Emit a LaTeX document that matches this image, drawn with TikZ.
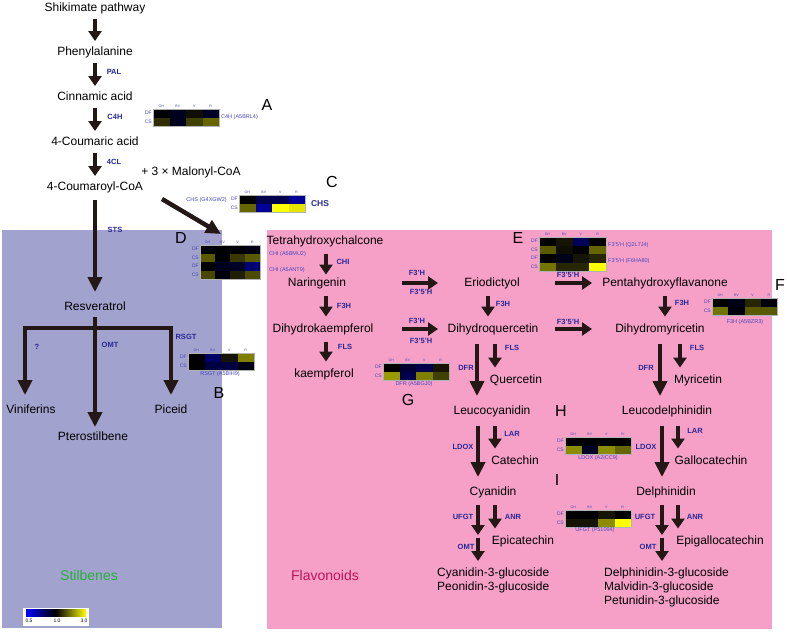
\documentclass[tikz,border=0pt]{standalone}
\usepackage{fontspec}
\setmainfont{Liberation Sans}
\usetikzlibrary{arrows.meta}
\definecolor{stilbg}{RGB}{162,162,206}
\definecolor{flavbg}{RGB}{246,160,200}
\definecolor{arrcol}{RGB}{35,24,21}
\definecolor{enzblue}{RGB}{40,40,150}
\definecolor{hmblue}{RGB}{70,70,185}
\definecolor{stilgreen}{RGB}{40,175,60}
\definecolor{flavred}{RGB}{185,20,90}
\definecolor{hy}{rgb}{1,1,0}
\definecolor{hb}{rgb}{0,0,1}
\definecolor{hk}{rgb}{0,0,0}

\begin{document}
\begin{tikzpicture}[x=1pt,y=-1pt,
    met/.style={font=\fontsize{12}{14}\selectfont, inner sep=0pt, text height=9pt, text depth=2.5pt},
    mlist/.style={font=\fontsize{12}{14}\selectfont, inner sep=0pt, align=left, anchor=north west},
    enz/.style={font=\fontsize{7.5}{9}\selectfont\bfseries, text=enzblue, inner sep=0pt},
    tag/.style={font=\fontsize{16}{18}\selectfont, inner sep=0pt},
    gene/.style={font=\fontsize{5.5}{6}\selectfont, text=hmblue, inner sep=0pt},
    rowlab/.style={font=\fontsize{5}{6}\selectfont, text=hmblue, inner sep=0pt, anchor=east},
    collab/.style={font=\fontsize{3.5}{4}\selectfont, text=hmblue, inner sep=0pt},
    leg/.style={font=\fontsize{5}{6}\selectfont, inner sep=0pt},
    hmframe/.style={draw=gray!60, line width=0.4pt},
    arr/.style={draw=arrcol, line width=3.5pt, -{Triangle[length=10pt,width=13pt]}, shorten <=5pt, shorten >=5pt},
    farr/.style={arr, shorten <=7pt, shorten >=6.5pt},
    bigarr/.style={draw=arrcol, line width=4.5pt, -{Triangle[length=15pt,width=14pt]}, shorten <=9pt, shorten >=9pt, line join=miter}]

    \useasboundingbox (0,0) rectangle (787,632);

    % Stilbene and flavonoid areas
    \fill[stilbg] (2,230) rectangle (222,628);
    \fill[flavbg] (267,230) rectangle (772,629);

    % heatmap cells (GH, BV, V, R)
    \foreach \x/\y/\w/\cs in {
        153/109/16.5/{hk,hb!12!hk,hy!6!hk,hb!15!hk},
        153/117.5/16.5/{hy!18!hk,hb!12!hk,hy!25!hk,hy!40!hk},
        239/195/16.5/{hk,hb!30!hk,hb!30!hk,hb!60!hk},
        239/203.5/16.5/{hy!40!hk,hb!60!hk,hy,hy!90!hk},
        200/245/15/{hk,hk,hk,hb!8!hk},
        200/253.5/15/{hy!35!hk,hk,hy!22!hk,hy!35!hk},
        200/262/15/{hk,hb!12!hk,hb!15!hk,hb!45!hk},
        200/270.5/15/{hy!28!hk,hb!5!hk,hy!12!hk,hy!30!hk},
        539/237/16.75/{hk,hy!8!hk,hb!35!hk,hk},
        539/245.5/16.75/{hy!35!hk,hy!5!hk,hk,hy!40!hk},
        539/254/16.75/{hk,hb!10!hk,hy!8!hk,hy!15!hk},
        539/262.5/16.75/{hy!45!hk,hy!15!hk,hy!15!hk,hy},
        712/298/16.25/{hk,hb!10!hk,hy!15!hk,hb!5!hk},
        712/306.5/16.25/{hy!45!hk,hb!5!hk,hy!35!hk,hy!35!hk},
        188/353/16.5/{hk,hb!40!hk,hy!8!hk,hy!50!hk},
        188/361.5/16.5/{hk,hb!25!hk,hb!25!hk,hb!8!hk},
        383/363/16.5/{hk,hb!20!hk,hb!30!hk,hy!8!hk},
        383/371.5/16.5/{hy!60!hk,hb!30!hk,hy!50!hk,hy!25!hk},
        565/437/16.5/{hk,hk,hk,hk},
        565/445.5/16.5/{hy!55!hk,hb!15!hk,hy!55!hk,hy!40!hk},
        565/510/16.5/{hk,hk,hy!8!hk,hk},
        565/518.5/16.5/{hy!8!hk,hy!8!hk,hy!55!hk,hy}} {
        \foreach \c [count=\i from 0] in \cs
            \fill[\c] (\x+\w*\i,\y) rectangle ++(\w,8.5);
    }

    % heatmap frames, column and row labels
    \foreach \x/\y/\w/\n [count=\k] in {153/109/16.5/2, 239/195/16.5/2, 200/245/15/4,
        539/237/16.75/4, 712/298/16.25/2, 188/353/16.5/2, 383/363/16.5/2,
        565/437/16.5/2, 565/510/16.5/2} {
        \draw[hmframe] (\x,\y) rectangle ++(4*\w,8.5*\n);
        \foreach \t [count=\i from 0] in {GH,BV,V,R}
            \node[collab] (c\k\t) at (\x+\w*\i+\w/2,\y-3) {\t};
        \foreach \j in {1,...,\n}
            \node[rowlab] (r\k-\j) at (\x-1,\y+8.5*\j-4.25) {\ifodd\j\relax DF\else CS\fi};
    }

    % gene labels
    \node[gene, anchor=west] (gA) at (221,117) {C4H (A5BRL4)};
    \node[gene, anchor=east] (gC) at (227,200) {CHS (G4XGW2)};
    \node[gene, anchor=west] (gD1) at (269,254) {CHI (A5BMU2)};
    \node[gene, anchor=west] (gD2) at (269,270) {CHI (A5ANT9)};
    \node[gene, anchor=west] (gE1) at (608,245) {F3'5'H (Q2L7J4)};
    \node[gene, anchor=west] (gE2) at (608,261) {F3'5'H (F6HA80)};
    \node[gene] (gF) at (745,322) {F3H (A5BZR3)};
    \node[gene] (gB) at (220,374) {RSGT (A5BIH9)};
    \node[gene] (gG) at (414,384) {DFR (A5BGJ0)};
    \node[gene] (gH) at (598,458) {LDOX (A2ICC9)};
    \node[gene] (gI) at (595,530) {UFGT (P51094)};

    % panel letters
    \foreach \n/\x/\y in {A/267/105, B/219/393, C/332/182, D/181/238, E/518/238,
        F/780/285, G/408/400, H/561/411, I/557/480}
        \node[tag] (tag\n) at (\x,\y) {\n};

    % colour scale
    \fill[white] (23,608) rectangle (89,626);
    \shade[left color=hb, right color=hy, middle color=hk] (26,609) rectangle (86,616);
    \node[leg] (l05) at (29,621) {0.5};
    \node[leg] (l10) at (57,621) {1.0};
    \node[leg] (l30) at (84,621) {3.0};

    % group names
    \node[font=\fontsize{14}{16}\selectfont, text=stilgreen] (stil) at (89,575) {Stilbenes};
    \node[font=\fontsize{14}{16}\selectfont, text=flavred] (flav) at (325,575) {Flavonoids};

    % phenylpropanoid and stilbene branch
    \node[met] (shik) at (95,8) {Shikimate pathway};
    \node[met] (phe) at (95,52) {Phenylalanine};
    \node[met] (cin) at (95,97) {Cinnamic acid};
    \node[met] (cou) at (95,142) {4-Coumaric acid};
    \node[met] (coa) at (95,187) {4-Coumaroyl-CoA};
    \node[met] (mal) at (191,172) {+ 3 × Malonyl-CoA};
    \node[met] (res) at (95,307) {Resveratrol};
    \node[met] (vin) at (31,410) {Viniferins};
    \node[met] (pte) at (93,437) {Pterostilbene};
    \node[met] (pic) at (171,410) {Piceid};

    % flavonoid branch
    \node[met] (tetra) at (325,241) {Tetrahydroxychalcone};
    \node[met] (nar) at (317,283) {Naringenin};
    \node[met] (dhk) at (323,329) {Dihydrokaempferol};
    \node[met] (kae) at (324,374) {kaempferol};
    \node[met] (eri) at (492,283) {Eriodictyol};
    \node[met] (dhq) at (493,329) {Dihydroquercetin};
    \node[met] (que) at (516,380) {Quercetin};
    \node[met] (leuc) at (492,411) {Leucocyanidin};
    \node[met] (cat) at (515,461) {Catechin};
    \node[met] (cya) at (493,492) {Cyanidin};
    \node[met] (epi) at (523,541) {Epicatechin};
    \node[mlist] (cy3) at (437,567.5) {Cyanidin-3-glucoside\\Peonidin-3-glucoside};
    \node[met] (pen) at (665,283) {Pentahydroxyflavanone};
    \node[met] (dhm) at (660,329) {Dihydromyricetin};
    \node[met] (myr) at (698,380) {Myricetin};
    \node[met] (leud) at (667,411) {Leucodelphinidin};
    \node[met] (gal) at (711,461) {Gallocatechin};
    \node[met] (del) at (666,492) {Delphinidin};
    \node[met] (epg) at (720,541) {Epigallocatechin};
    \node[mlist] (dp3) at (604,567.5) {Delphinidin-3-glucoside\\Malvidin-3-glucoside\\Petunidin-3-glucoside};

    % enzymes
    \foreach \n/\x/\y/\t in {PAL/114/72/PAL, CfH/115/117/C4H, fCL/114/162/4CL, STS/115/230/STS,
        unk/37/347/?, OMTs/110/345/OMT, RSGT/186/337/RSGT, CHI/343/262/CHI,
        FHa/344/306/F3H, FLSa/345/347/FLS, FpHa/417/273/F3'H, FppHa/421/292/F3'5'H,
        FpHb/417/321/F3'H, FppHb/421/341/F3'5'H, FHb/503/304/F3H, DFRa/466/368/DFR,
        FLSb/512/348/FLS, FppHc/568/275/F3'5'H, FppHd/568/322/F3'5'H, FHc/682/303/F3H,
        DFRb/646/368/DFR, FLSc/697/348/FLS, LDOXa/463/447/LDOX, LARa/512/434/LAR,
        UFGTa/463/517/UFGT, ANRa/513/517/ANR, OMTa/466/547/OMT, LDOXb/646/447/LDOX,
        LARb/695/431/LAR, UFGTb/645/517/UFGT, ANRb/695/517/ANR, OMTb/648/547/OMT}
        \node[enz] (e\n) at (\x,\y) {\t};
    \node[enz, font=\fontsize{8.5}{10}\selectfont\bfseries] (eCHS) at (320,204) {CHS};

    % arrows, left part
    \draw[arr] (shik.south) -- (phe.north);
    \draw[arr] (phe.south) -- (cin.north);
    \draw[arr] (cin.south) -- (cou.north);
    \draw[arr] (cou.south) -- (coa.north);
    \draw[bigarr, shorten <=7pt] (coa.south) -- (res.north);
    \draw[bigarr, shorten <=0pt, shorten >=0pt] ([shift={(67pt,-12pt)}]coa.center) -- ([shift={(-104pt,7pt)}]tetra.center);
    \coordinate (fork) at (95,328);
    \draw[draw=arrcol, line width=4.5pt, shorten <=4pt] (res.south) -- (fork);
    \draw[bigarr, shorten <=0pt] (fork) -| ([xshift=-6pt]vin.north);
    \draw[bigarr, shorten <=0pt] (fork) -| (pic.north);
    \draw[bigarr, shorten <=0pt, shorten >=4pt] (fork) -- (fork |- pte.north);

    % arrows, flavonoids
    \draw[farr, shorten >=2.5pt] ([xshift=1pt]tetra.south) -- ([xshift=1pt]tetra.south |- nar.north);
    \draw[farr] ([xshift=9pt]nar.south) -- ([xshift=9pt]nar.south |- dhk.north);
    \draw[farr] ([xshift=3pt]dhk.south) -- ([xshift=3pt]dhk.south |- kae.north);
    \draw[farr] ([xshift=-4pt]eri.south) -- ([xshift=-4pt]eri.south |- dhq.north);
    \draw[bigarr] ([xshift=-16pt]dhq.south) -- ([xshift=-16pt]dhq.south |- leuc.north);
    \draw[farr, shorten <=9pt] ([xshift=2pt]dhq.south) -- ([xshift=2pt]dhq.south |- que.north);
    \draw[bigarr] ([xshift=-14pt]leuc.south) -- ([xshift=-14pt]leuc.south |- cya.north);
    \draw[farr, shorten <=9pt] ([xshift=3pt]leuc.south) -- ([xshift=3pt]leuc.south |- cat.north);
    \coordinate (cyg) at (478,535);
    \draw[farr, shorten >=0pt] ([xshift=-15pt]cya.south) -- (cyg);
    \draw[farr] ([xshift=2pt]cya.south) -- ([xshift=2pt]cya.south |- epi.north);
    \draw[farr, shorten <=3pt] (cyg) -- (cyg |- cy3.north);

    \draw[farr] (pen.south) -- (pen.south |- dhm.north);
    \draw[bigarr] (dhm.south) -- (dhm.south |- leud.north);
    \draw[farr, shorten <=9pt] ([xshift=20pt]dhm.south) -- ([xshift=20pt]dhm.south |- myr.north);
    \draw[bigarr] ([xshift=-5pt]leud.south) -- ([xshift=-5pt]leud.south |- del.north);
    \draw[farr, shorten <=9pt] ([xshift=11pt]leud.south) -- ([xshift=11pt]leud.south |- gal.north);
    \coordinate (delg) at (662,535);
    \draw[farr, shorten >=0pt] ([xshift=-4pt]del.south) -- (delg);
    \draw[farr] ([xshift=12pt]del.south) -- ([xshift=12pt]del.south |- epg.north);
    \draw[farr, shorten <=3pt] (delg) -- (delg |- dp3.north);

    % hydroxylation steps
    \draw[arr, shorten <=0pt, shorten >=0pt] ([xshift=85pt]nar.center) -- ([xshift=-54pt]eri.center);
    \draw[arr, shorten <=0pt, shorten >=0pt] ([xshift=79pt]dhk.center) -- ([xshift=-55pt]dhq.center);
    \draw[arr, shorten <=0pt, shorten >=0pt] ([xshift=63pt]eri.center) -- ([xshift=-73pt]pen.center);
    \draw[arr, shorten <=0pt, shorten >=0pt] ([xshift=62pt]dhq.center) -- ([xshift=-68pt]dhm.center);
\end{tikzpicture}
\end{document}
